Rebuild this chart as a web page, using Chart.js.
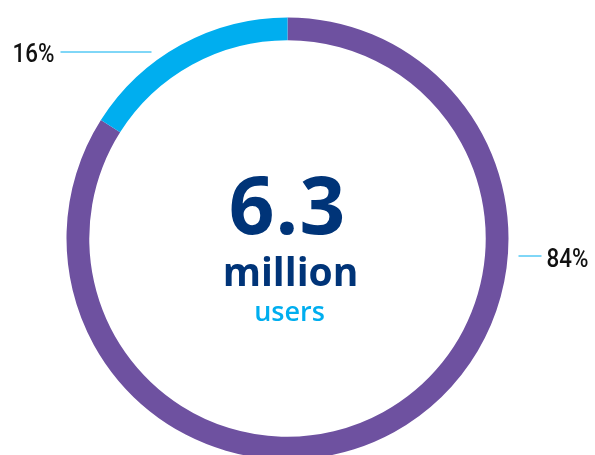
<!DOCTYPE html>
<html>
<head>
<meta charset="utf-8">
<script src="https://cdn.jsdelivr.net/npm/chart.js@4"></script>
<style>
  html, body { margin: 0; padding: 0; background: #fff; overflow: hidden; }
  #wrap { width: 595px; height: 480px; }
</style>
</head>
<body>
<div id="wrap"><canvas id="ring"></canvas></div>
<script>
var labels = ['Other', 'Share'];
var shares = [84, 16];
var sliceColors = ['#6e51a0', '#00aeef'];
var centerLines = ['6.3', 'million', 'users'];

// narrow-ish label text: squeeze Roboto a little
function narrowText(c, txt, x, y, align) {
    var sx = 0.86;
    var w = c.measureText(txt).width * sx;
    var left = align === 'right' ? x - w : x;
    c.save();
    c.translate(left, y);
    c.scale(sx, 1);
    c.textAlign = 'left';
    c.fillText(txt, 0, 0);
    c.restore();
}

// center text + leader labels
var ringText = {
    id: 'ringText',
    afterDraw: function (chart) {
        var arc = chart.getDatasetMeta(0).data[0];
        var cx = arc.x, cy = arc.y;
        var c = chart.ctx;
        c.save();
        c.textAlign = 'center';
        c.textBaseline = 'alphabetic';

        c.fillStyle = '#003478';
        c.font = 'bold 80px "Open Sans", sans-serif';
        c.letterSpacing = '1px';
        c.fillText(centerLines[0], cx, cy - 5);
        c.letterSpacing = '0px';

        c.font = 'bold 39px "Open Sans", sans-serif';
        c.fillText(centerLines[1], cx + 3, cy + 47);

        c.fillStyle = '#00aeef';
        c.font = '600 27px "Open Sans", sans-serif';
        c.fillText(centerLines[2], cx + 2, cy + 82);

        // leader lines
        c.strokeStyle = '#00aeef';
        c.lineWidth = 1;
        c.beginPath();
        c.moveTo(cx - 227, cy - 186.5);
        c.lineTo(cx - 136, cy - 186.5);
        c.moveTo(cx + 231, cy + 17.5);
        c.lineTo(cx + 254, cy + 17.5);
        c.stroke();

        c.fillStyle = '#111';
        c.font = '500 26px Roboto, sans-serif';
        narrowText(c, shares[1] + '%', cx - 233, cy - 177, 'right');
        narrowText(c, shares[0] + '%', cx + 259, cy + 28, 'left');
        c.restore();
    }
};

new Chart(document.getElementById('ring'), {
    type: 'doughnut',
    data: {
        labels: labels,
        datasets: [{
            data: shares,
            backgroundColor: sliceColors,
            borderWidth: 0
        }]
    },
    options: {
        responsive: true,
        maintainAspectRatio: false,
        animation: false,
        cutout: '89.7%',
        layout: {
            padding: { left: 66.5, right: 86.5, top: 17.5, bottom: 20.5 }
        },
        plugins: {
            legend: { display: false },
            tooltip: { enabled: false }
        }
    },
    plugins: [ringText]
});
</script>
</body>
</html>
